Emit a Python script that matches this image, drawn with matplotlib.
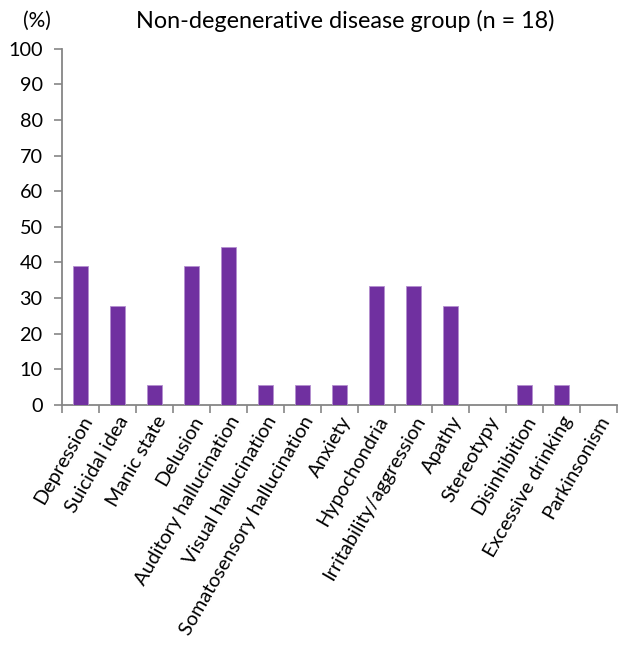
import matplotlib
matplotlib.use("Agg")
import matplotlib.pyplot as plt

categories = ["Depression", "Suicidal idea", "Manic state", "Delusion",
              "Auditory hallucination", "Visual hallucination",
              "Somatosensory hallucination", "Anxiety", "Hypochondria",
              "Irritability/aggression", "Apathy", "Stereotypy",
              "Disinhibition", "Excessive drinking", "Parkinsonism"]
values = [38.9, 27.8, 5.6, 38.9, 44.4, 5.6, 5.6, 5.6, 33.3, 33.3, 27.8, 0, 5.6, 5.6, 0]
yticks = [0, 10, 20, 30, 40, 50, 60, 70, 80, 90, 100]

plt.rcParams['font.family'] = ['Lato', 'DejaVu Sans']
fig = plt.figure(figsize=(6.29, 6.51), dpi=100)
ax = fig.add_axes([0.0986, 0.378, 0.882, 0.547])
x = list(range(len(categories)))
ax.bar(x, values, width=0.4, color="#7030A0", edgecolor="#B48FD0", linewidth=0.6, zorder=3)
ax.set_xlim(-0.5, len(categories) - 0.5)
ax.set_ylim(0, 100)
ax.set_yticks(yticks)
ax.set_yticklabels([str(t) for t in yticks], fontsize=14.3)
ax.set_xticks([i - 0.5 for i in range(len(categories) + 1)], minor=False)
ax.set_xticklabels([])
ax.set_xticks(x, minor=True)
ax.set_xticklabels(categories, minor=True, rotation=60, ha="right",
                   rotation_mode="anchor", fontsize=14.3)
ax.tick_params(axis="x", which="minor", length=0, pad=6)
ax.tick_params(axis="x", which="major", length=6, color="#868686", width=1.2, direction="out")
ax.tick_params(axis="y", length=6, color="#868686", width=1.2, direction="out", pad=8)
for s in ["top", "right"]:
    ax.spines[s].set_visible(False)
for s in ["left", "bottom"]:
    ax.spines[s].set_color("#868686")
    ax.spines[s].set_linewidth(1.3)
fig.text(0.059, 0.968, "(%)", fontsize=15, ha="center", va="center")
fig.text(0.548, 0.968, "Non-degenerative disease group (n = 18)", fontsize=16.8, ha="center", va="center")
fig.savefig("out.png", dpi=100)
